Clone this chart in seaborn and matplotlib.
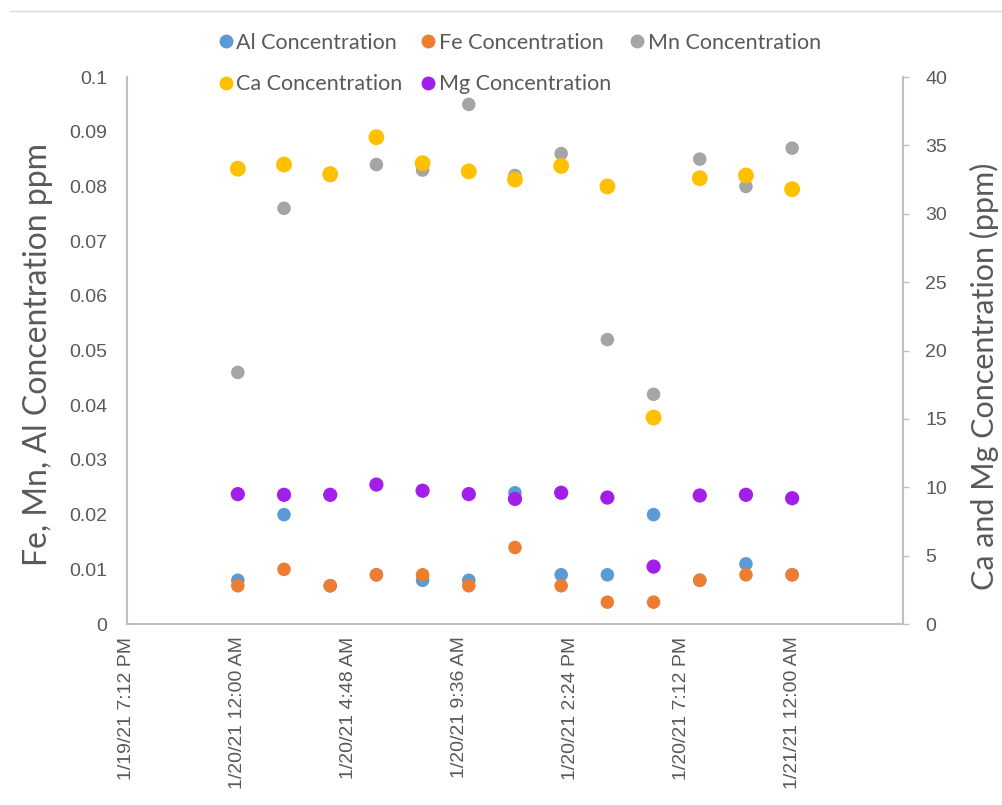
import matplotlib
matplotlib.use("Agg")
import matplotlib.pyplot as plt
from matplotlib.lines import Line2D
import seaborn as sns
import pandas as pd

sns.set_theme(style="white")
plt.rcParams['font.family'] = ['Liberation Sans', 'DejaVu Sans']

# ---- data ----
times = ["2021-01-20 00:00", "2021-01-20 02:00", "2021-01-20 04:00", "2021-01-20 06:00",
         "2021-01-20 08:00", "2021-01-20 10:00", "2021-01-20 12:00", "2021-01-20 14:00",
         "2021-01-20 16:00", "2021-01-20 18:00", "2021-01-20 20:00", "2021-01-20 22:00",
         "2021-01-21 00:00"]
al = [0.008, 0.020, 0.007, 0.009, 0.008, 0.008, 0.024, 0.009, 0.009, 0.020, 0.008, 0.011, 0.009]
fe = [0.007, 0.010, 0.007, 0.009, 0.009, 0.007, 0.014, 0.007, 0.004, 0.004, 0.008, 0.009, 0.009]
mn = [0.046, 0.076, 0.082, 0.084, 0.083, 0.095, 0.082, 0.086, 0.052, 0.042, 0.085, 0.080, 0.087]
ca = [33.3, 33.6, 32.9, 35.6, 33.7, 33.1, 32.5, 33.5, 32.0, 15.1, 32.6, 32.8, 31.8]
mg = [9.5, 9.45, 9.45, 10.2, 9.75, 9.5, 9.15, 9.6, 9.25, 4.2, 9.4, 9.45, 9.2]

x_ticks = ["2021-01-19 19:12", "2021-01-20 00:00", "2021-01-20 04:48", "2021-01-20 09:36",
           "2021-01-20 14:24", "2021-01-20 19:12", "2021-01-21 00:00"]
x_tick_labels = ["1/19/21 7:12 PM", "1/20/21 12:00 AM", "1/20/21 4:48 AM", "1/20/21 9:36 AM",
                 "1/20/21 2:24 PM", "1/20/21 7:12 PM", "1/21/21 12:00 AM"]
x_limits = ["2021-01-19 19:12", "2021-01-21 04:48"]
left_ticks = [0, 0.01, 0.02, 0.03, 0.04, 0.05, 0.06, 0.07, 0.08, 0.09, 0.1]
left_tick_labels = ["0", "0.01", "0.02", "0.03", "0.04", "0.05", "0.06", "0.07", "0.08", "0.09", "0.1"]
right_ticks = [0, 5, 10, 15, 20, 25, 30, 35, 40]

names_primary = ["Al Concentration", "Fe Concentration", "Mn Concentration"]
names_secondary = ["Ca Concentration", "Mg Concentration"]
colors = {"Al Concentration": "#5B9BD5", "Fe Concentration": "#ED7D31",
          "Mn Concentration": "#A5A5A5", "Ca Concentration": "#FFC000",
          "Mg Concentration": "#A21FEA"}

t = pd.to_datetime(times)
df1 = pd.concat([pd.DataFrame({"time": t, "value": v, "series": n})
                 for n, v in zip(names_primary, [al, fe, mn])], ignore_index=True)

TXT = "#595959"
SP = "#BFBFBF"
LABEL_FONT = ["Lato", "DejaVu Sans"]

fig = plt.figure(figsize=(10.02, 8.05), dpi=100)
ax = fig.add_axes([0.1267, 0.2248, 0.7745, 0.6795])
ax2 = ax.twinx()

for n in names_primary:
    sub = df1[df1.series == n]
    sns.scatterplot(data=sub, x="time", y="value", color=colors[n], s=95,
                    edgecolor="none", ax=ax, legend=False, zorder=3)

sns.scatterplot(x=t, y=ca, color=colors["Ca Concentration"], s=130, edgecolor="none",
                ax=ax2, legend=False, zorder=3)
sns.scatterplot(x=t, y=mg, color=colors["Mg Concentration"], s=105, edgecolor="none",
                ax=ax2, legend=False, zorder=4)

ax.set_xlim(pd.to_datetime(x_limits[0]), pd.to_datetime(x_limits[1]))
ax.set_ylim(0, 0.1)
ax2.set_ylim(0, 40)
ax.set_xticks(pd.to_datetime(x_ticks))
ax.set_xticklabels(x_tick_labels, rotation=90, fontsize=14, color=TXT)
ax.set_yticks(left_ticks)
ax.set_yticklabels(left_tick_labels, fontsize=14, color=TXT)
ax2.set_yticks(right_ticks)
ax2.set_yticklabels([str(v) for v in right_ticks], fontsize=14, color=TXT)

ax.tick_params(axis="x", length=0, pad=9)
ax.tick_params(axis="y", length=0, pad=14)
ax2.tick_params(axis="y", length=4, width=1, color=SP, pad=12, direction="out")

for a in (ax, ax2):
    a.set_xlabel("")
    for s in a.spines.values():
        s.set_visible(False)
    a.grid(False)
ax.spines["left"].set_visible(True)
ax.spines["bottom"].set_visible(True)
ax2.spines["right"].set_visible(True)
for s in (ax.spines["left"], ax.spines["bottom"], ax2.spines["right"]):
    s.set_color(SP)
    s.set_linewidth(1.5)

ax.set_ylabel("Fe, Mn, Al Concentration ppm", fontsize=23, color=TXT, family=LABEL_FONT)
ax.yaxis.set_label_coords(-0.095, 0.492)
ax2.set_ylabel("Ca and Mg Concentration (ppm)", fontsize=22, color=TXT, family=LABEL_FONT,
               rotation=90, va="center", ha="center")
ax2.yaxis.set_label_coords(1.105, 0.452)

# legend: row1 Al, Fe, Mn ; row2 Ca, Mg  (column-major filling)
order = ["Al Concentration", "Ca Concentration", "Fe Concentration",
         "Mg Concentration", "Mn Concentration"]
handles = [Line2D([], [], marker="o", linestyle="none", markersize=10,
                  markerfacecolor=colors[n], markeredgecolor="none") for n in order]
leg = fig.legend(handles, order, loc="center", bbox_to_anchor=(0.518, 0.921), ncol=3,
                 frameon=False, prop={"family": LABEL_FONT, "size": 15.5},
                 handletextpad=0.1, columnspacing=0.8, labelspacing=1.0,
                 handlelength=0.8)
for txt in leg.get_texts():
    txt.set_color(TXT)

fig.add_artist(Line2D([0.01, 1.0], [0.986, 0.986], transform=fig.transFigure,
                      color="#D9D9D9", linewidth=1))

fig.savefig("out.png", dpi=100, facecolor="white")
